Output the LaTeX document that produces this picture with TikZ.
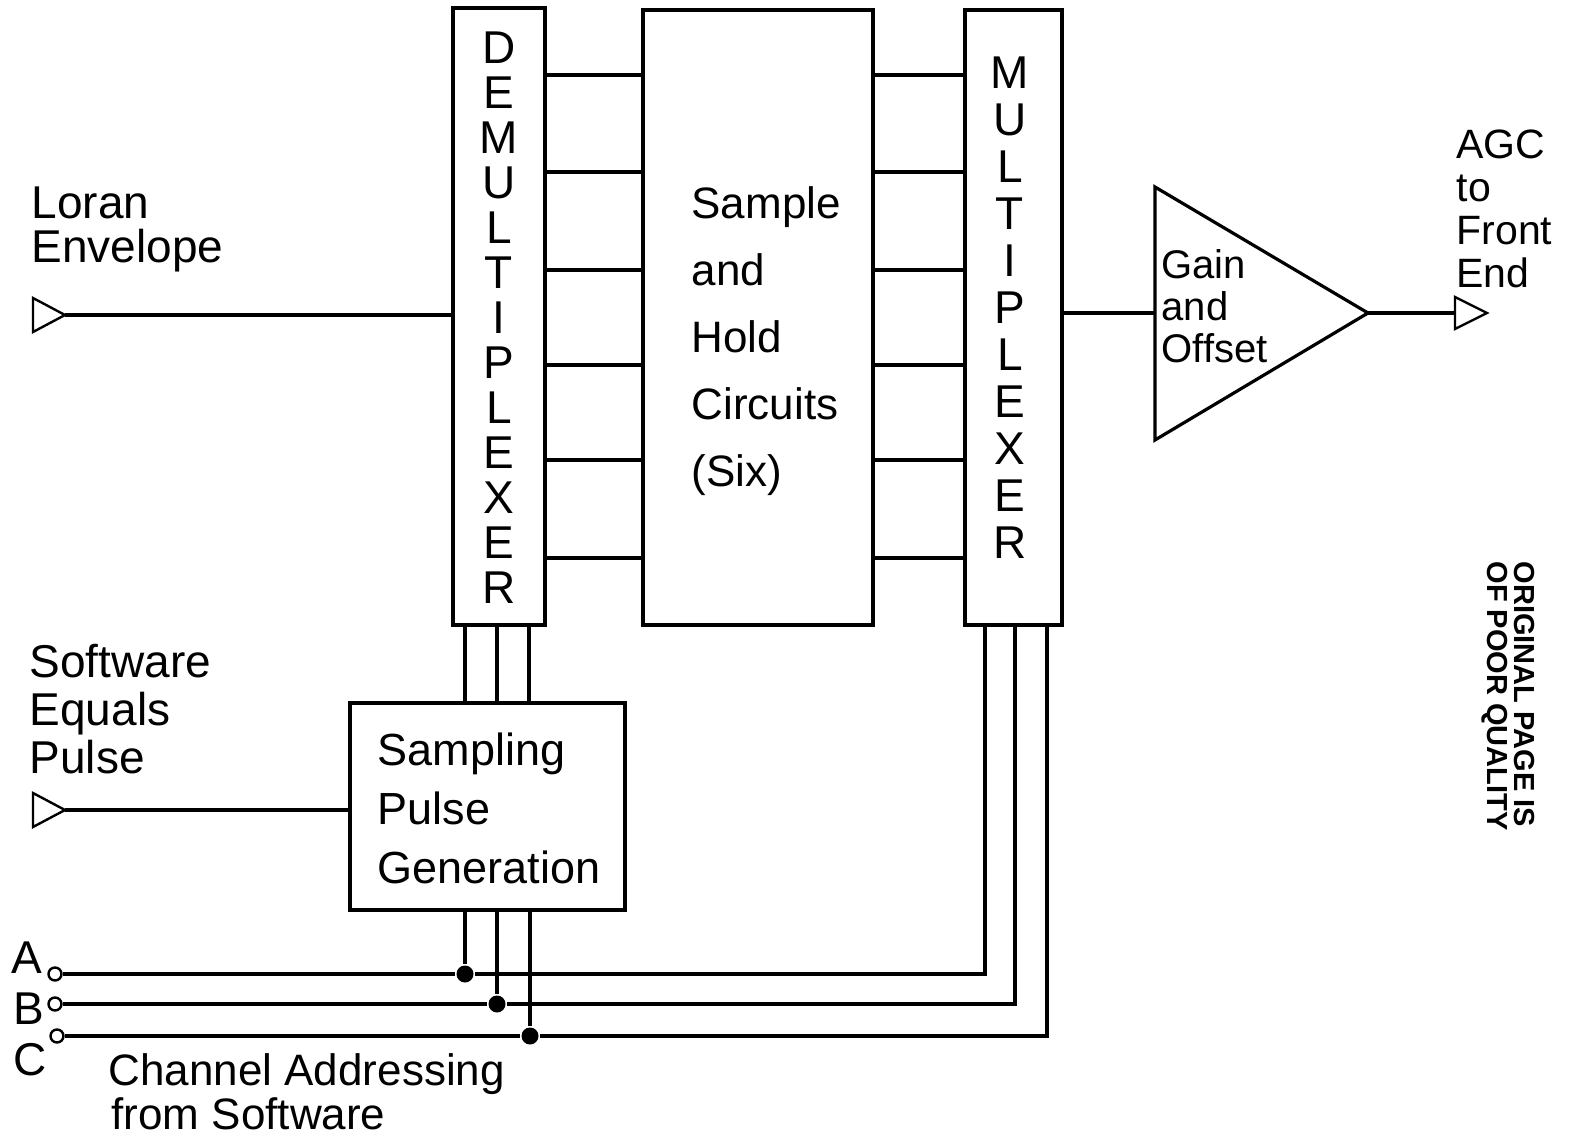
\documentclass[tikz,border=0pt]{standalone}
\usepackage{fontspec}
\setmainfont{Liberation Sans}
\begin{document}
\begin{tikzpicture}[x=1pt,y=-1pt, line width=3.2pt,
  box/.style={draw, rectangle, inner sep=0pt},
  lbl/.style={inner sep=0pt, anchor=base west, align=left},
  dot/.style={circle, fill, inner sep=0pt, minimum size=17pt},
  term/.style={circle, draw, fill=white, inner sep=0pt, minimum size=13pt, line width=2.4pt},
  port/.style={line width=2.4pt, line join=miter}]
\useasboundingbox (0,0) rectangle (1570,1137);

% main boxes
\node[box, minimum width=92, minimum height=617] (demux) at (499,316.5) {};
\node[box, minimum width=230, minimum height=615] (sh) at (758,317.5) {};
\node[box, minimum width=97, minimum height=615] (mux) at (1013.5,317.5) {};
\node[box, minimum width=275, minimum height=207] (spg) at (487.5,806.5) {};

% vertical lettering
\node[inner sep=0pt, align=center, font=\fontsize{46}{45}\selectfont] (demuxtxt) at (499,318)
  {D\\E\\M\\U\\L\\T\\I\\P\\L\\E\\X\\E\\R};
\node[inner sep=0pt, align=center, font=\fontsize{46}{47}\selectfont] (muxtxt) at (1010,308)
  {M\\U\\L\\T\\I\\P\\L\\E\\X\\E\\R};

% box texts (anchor = baseline of last line)
\node[lbl, font=\fontsize{44}{67}\selectfont] (shtxt) at (690,486)
  {Sample\\and\\Hold\\Circuits\\(Six)};
\node[lbl, font=\fontsize{45}{59}\selectfont] (spgtxt) at (376,883)
  {Sampling\\Pulse\\Generation};

% six channel lines
\foreach \y in {75,172,270,365,460,558}{
  \draw (demux.east |- 0,\y) -- (sh.west |- 0,\y);
  \draw (sh.east |- 0,\y) -- (mux.west |- 0,\y);
}

% amplifier
\coordinate (ampin) at (1155,313);
\coordinate (ampout) at (1368,313);
\draw[line join=miter] (1155,187) -- (ampout) -- (1155,440) -- cycle;
\node[lbl, font=\fontsize{40}{42}\selectfont] (amptxt) at (1160,362) {Gain\\and\\Offset};
\draw (mux.east |- ampin) -- (ampin);

% output port
\coordinate (outp) at (1455,313);
\draw (ampout) -- (outp);
\draw[port] (outp) -- ++(0,-16) -- ++(32,16) -- ++(-32,16) -- cycle;
\node[lbl, font=\fontsize{41}{43}\selectfont] (agc) at (1455,287) {AGC\\to\\Front\\End};

% Loran input
\coordinate (lorin) at (65,315);
\draw[port] (lorin) -- ++(-32,-17) -- ++(0,34) -- cycle;
\draw (lorin) -- (demux.west |- lorin);
\node[lbl, font=\fontsize{46}{44}\selectfont] (lortxt) at (30,262) {Loran\\Envelope};

% software equals pulse input
\coordinate (swin) at (65,810);
\draw[port] (swin) -- ++(-32,-17) -- ++(0,34) -- cycle;
\draw (swin) -- (spg.west |- swin);
\node[lbl, font=\fontsize{46}{48}\selectfont] (swtxt) at (28,773) {Software\\Equals\\Pulse};

% demux to sampling pulse generation
\foreach \x in {465,497,529}
  \draw (demux.south -| \x,0) -- (spg.north -| \x,0);

% channel addressing
\node[dot] (dA) at (465,974) {};
\node[dot] (dB) at (497,1004) {};
\node[dot] (dC) at (530,1036) {};
\node[term] (tA) at (55,974) {};
\node[term] (tB) at (55,1004) {};
\node[term] (tC) at (57,1036) {};
\draw (spg.south -| dA) -- (dA);
\draw (spg.south -| dB) -- (dB);
\draw (spg.south -| dC) -- (dC);
\draw (tA.east) -- (dA) -| (mux.south -| 985,0);
\draw (tB.east) -- (dB) -| (mux.south -| 1015,0);
\draw (tC.east) -- (dC) -| (mux.south -| 1047,0);

\node[lbl, font=\fontsize{46}{46}\selectfont] (la) at (10,973) {A};
\node[lbl, font=\fontsize{46}{46}\selectfont] (lb) at (12,1024) {B};
\node[lbl, font=\fontsize{46}{46}\selectfont] (lc) at (12,1075) {C};
\node[lbl, font=\fontsize{44}{44}\selectfont] (chtxt1) at (107,1085) {Channel Addressing};
\node[lbl, font=\fontsize{44}{44}\selectfont] (chtxt2) at (110,1129) {from Software};

% stamp
\node[rotate=-90, anchor=north west, inner sep=0pt, align=left,
  font=\bfseries\fontsize{29}{27}\selectfont] (stamp) at (1536,560)
  {ORIGINAL PAGE IS\\OF POOR QUALITY};
\end{tikzpicture}
\end{document}
